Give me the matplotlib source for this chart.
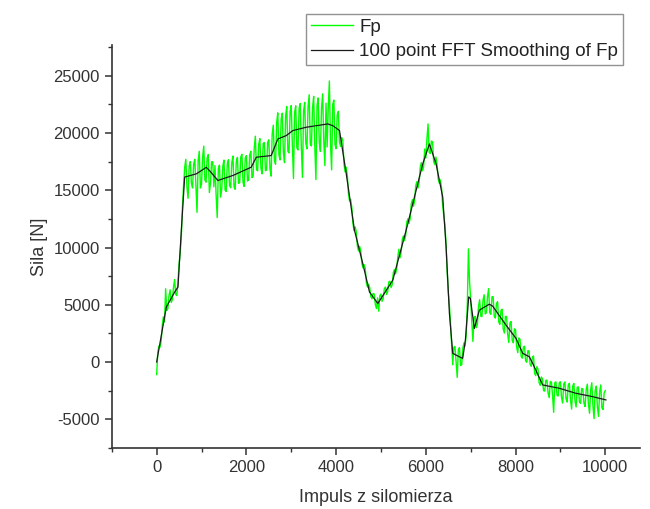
import numpy as np
import matplotlib
matplotlib.use('Agg')
from matplotlib import pyplot as plt
from matplotlib.ticker import MultipleLocator

plt.rcParams['font.family'] = ['Liberation Sans', 'DejaVu Sans']
plt.rcParams['axes.unicode_minus'] = False

# raw signal Fp, read at every 50 impulses (0..10000)
fp_x_a = np.arange(0, 10001, 50)
fp_y_a = [
    -1100, 1400, 1800, 3950, 6400, 4650, 6300, 5450, 7200, 5800,
    8600, 11000, 15400, 17700, 14300, 17500, 15200, 17700, 13070, 18400,
    15530, 18850, 15700, 18120, 15610, 17480, 17150, 12620, 17200, 15060,
    17630, 14890, 17660, 15220, 17990, 15080, 17870, 15660, 18140, 15330,
    18020, 15910, 18400, 16230, 19720, 16690, 19510, 16430, 19160, 16780,
    19400, 16230, 20680, 17270, 21760, 17650, 21730, 17410, 22310, 18260,
    22400, 16020, 22370, 18520, 22570, 16120, 22670, 18610, 23340, 18870,
    23200, 15930, 23060, 18390, 23420, 17150, 18780, 24540, 16780, 22870,
    18630, 21890, 18810, 19360, 16600, 16300, 14060, 13510, 11470, 11370,
    9690, 9710, 8220, 8190, 6550, 6490, 5520, 5940, 4670, 4440,
    5940, 5550, 6550, 6150, 7060, 6760, 8080, 8110, 9850, 9580,
    11010, 11040, 12510, 12500, 14180, 14070, 15750, 15630, 17420, 17020,
    17810, 20790, 18210, 19220, 17240, 17290, 15610, 15230, 12770, 10350,
    6120, 3410, -240, 1360, -1340, 1260, -240, 1670, 2340, 9880,
    5500, 1800, 3990, 3300, 5440, 3960, 5880, 4300, 6410, 4170,
    5720, 3840, 5270, 3290, 4610, 2530, 3960, 1700, 3540, 1680,
    2820, 820, 1980, 340, 1380, -20, 970, -380, 530, -1190,
    -620, -2040, -1470, -2540, -1580, -3110, -1750, -4390, -1730, -2970,
    -1720, -3580, -1740, -3500, -1860, -4110, -1870, -3930, -2170, -3610,
    -2350, -3890, -1930, -4470, -1810, -4950, -2100, -4750, -2000, -4150,
    -2490,
]
# raw signal Fp, read in between (25, 75, ... 9975)
fp_x_b = np.arange(25, 10000, 50)
fp_y_b = [
    860, 1300, 3200, 3500, 4500, 5800, 5200, 6500, 5900, 7000,
    9500, 13600, 17000, 15300, 17100, 15600, 17300, 15400, 17600, 15200,
    17900, 15900, 17800, 14800, 17500, 15300, 14600, 16900, 14400, 17100,
    15000, 17300, 15400, 17400, 15300, 17500, 15600, 17900, 15700, 17800,
    15800, 18100, 16100, 18700, 16800, 19000, 16900, 19100, 16700, 19200,
    16900, 19900, 17600, 20900, 18100, 21200, 18300, 21500, 18400, 21900,
    18900, 21800, 18700, 22100, 18800, 21900, 19100, 22300, 19000, 22200,
    18900, 22400, 19200, 22100, 19300, 22600, 22200, 19100, 22500, 19000,
    21600, 19200, 19600, 17300, 17000, 14700, 14200, 12100, 11800, 10100,
    10100, 8600, 8500, 6900, 6800, 5700, 6000, 5000, 5600, 5800,
    5300, 6400, 5900, 7000, 6500, 7800, 7700, 9200, 9100, 10700,
    10600, 12200, 12100, 13800, 13600, 15400, 15200, 17000, 16700, 18600,
    19500, 18300, 19300, 17500, 17900, 16000, 15900, 13700, 12000, 8000,
    5000, 1500, 1300, 0, 1100, -300, 1200, 1400, 5000, 7000,
    3500, 3900, 3000, 4900, 4000, 5400, 4200, 5700, 4300, 5700,
    4000, 5100, 3500, 4500, 2900, 4000, 2400, 3400, 1900, 2900,
    1300, 2100, 500, 1300, 100, 1000, -200, 400, -1000, -400,
    -1800, -1300, -2500, -1600, -2700, -1700, -2900, -1800, -2900, -1800,
    -3100, -1900, -3200, -2000, -3300, -2100, -3400, -2200, -3500, -2300,
    -3600, -2400, -3700, -2400, -3800, -2500, -3900, -2600, -4000, -2700,
]

# 100 point FFT smoothing of Fp
sm_x = [0, 215, 400, 475, 550, 624, 884, 1107, 1180, 1366, 1700, 2108, 2220,
        2554, 2702, 2888, 3036, 3333, 3815, 3927, 4076, 4224, 4410, 4595,
        4744, 4929, 5263, 5561, 5635, 5931, 6080, 6229, 6377, 6452, 6526,
        6600, 6748, 6822, 6882, 6956, 6993, 7082, 7194, 7416, 7490, 7788,
        8011, 8159, 8307, 8381, 8604, 8975, 9347, 9717, 10015]
sm_y = [0, 4800, 6100, 6550, 11500, 16150, 16430, 17000, 16700, 15850, 16290,
        17010, 17880, 18030, 19480, 19770, 20210, 20500, 20790, 20640, 20210,
        16500, 11500, 8600, 6120, 5110, 7140, 11500, 12660, 17300, 19040,
        17300, 14400, 10040, 4240, 760, 460, 320, 1920, 5690, 5550, 2930,
        4530, 5050, 4880, 3220, 2060, 760, 460, -110, -2000, -2290, -2730,
        -3020, -3310]

fp_x = np.concatenate([fp_x_a, fp_x_b])
fp_y = np.concatenate([fp_y_a, fp_y_b])
order = np.argsort(fp_x)
fp_x, fp_y = fp_x[order], fp_y[order]

fig = plt.figure(figsize=(6.5, 5.09), dpi=100)
ax = fig.add_axes([0.172, 0.12, 0.813, 0.792])

ax.plot(fp_x, fp_y, color='#00ff00', lw=1.0, label='Fp')
ax.plot(sm_x, sm_y, color='#1a1a1a', lw=0.9, label='100 point FFT Smoothing of Fp')

ax.set_xlim(-1000, 10780)
ax.set_ylim(-7500, 27700)
ax.xaxis.set_major_locator(MultipleLocator(2000))
ax.xaxis.set_minor_locator(MultipleLocator(1000))
ax.yaxis.set_major_locator(MultipleLocator(5000))
ax.yaxis.set_minor_locator(MultipleLocator(2500))

for s in ['top', 'right']:
    ax.spines[s].set_visible(False)
for s in ['left', 'bottom']:
    ax.spines[s].set_color('#333333')
    ax.spines[s].set_linewidth(1.2)
ax.tick_params(which='major', direction='out', length=5, width=1.1,
               color='#333333', labelsize=12, labelcolor='#333333')
ax.tick_params(which='minor', direction='out', length=3, width=1.0,
               color='#333333')

ax.set_xlabel('Impuls z silomierza', fontsize=13, color='#333333', labelpad=10)
ax.set_ylabel('Sila [N]', fontsize=13, color='#333333', labelpad=4)

leg = fig.legend(loc='upper right', bbox_to_anchor=(623 / 650, 1 - 14 / 509),
                 fontsize=13.5, frameon=True, fancybox=False, handlelength=2.25,
                 handletextpad=0.35, labelspacing=0.4, borderpad=0.25,
                 borderaxespad=0)
leg.get_frame().set_edgecolor('#777777')
leg.get_frame().set_linewidth(1.0)
for t in leg.get_texts():
    t.set_color('#222222')

plt.savefig('out.png', dpi=100)
